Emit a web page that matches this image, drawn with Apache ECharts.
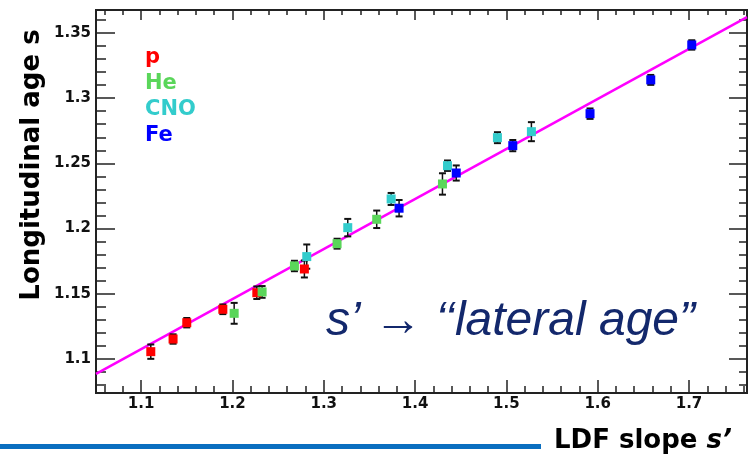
<!DOCTYPE html>
<html>
<head>
<meta charset="utf-8">
<script src="https://cdn.jsdelivr.net/npm/echarts@6/dist/echarts.min.js"></script>
<style>
html,body{margin:0;padding:0;background:#fff;}
#chart{width:751px;height:456px;}
</style>
</head>
<body>
<div id="chart"></div>
<script>
// ---- data ----
const groups = ['p', 'He', 'CNO', 'Fe'];
const groupColors = ['#ff0000', '#5ad65a', '#33cccc', '#0000ff'];

const pX   = [1.1106, 1.1350, 1.1500, 1.1895, 1.2267, 1.2788];
const pY   = [1.1056, 1.1153, 1.1278, 1.1381, 1.1508, 1.1690];
const pErr = [0.0055, 0.0036, 0.0036, 0.0037, 0.0048, 0.0065];

const heX   = [1.2019, 1.2325, 1.2679, 1.3146, 1.3580, 1.4300];
const heY   = [1.1350, 1.1514, 1.1713, 1.1884, 1.2071, 1.2342];
const heErr = [0.0080, 0.0045, 0.0040, 0.0038, 0.0067, 0.0082];

const cnoX   = [1.2814, 1.3263, 1.3738, 1.4355, 1.4902, 1.5274];
const cnoY   = [1.1785, 1.2007, 1.2227, 1.2482, 1.2697, 1.2743];
const cnoErr = [0.0093, 0.0067, 0.0046, 0.0040, 0.0042, 0.0073];

const feX   = [1.3825, 1.4451, 1.5070, 1.5916, 1.6581, 1.7030];
const feY   = [1.2156, 1.2426, 1.2636, 1.2881, 1.3140, 1.3408];
const feErr = [0.0063, 0.0058, 0.0043, 0.0040, 0.0038, 0.0036];

// straight-line fit (end points)
const fitX = [1.0506, 1.7635];
const fitY = [1.0885, 1.3621];

// axes
const xRange = [1.0506, 1.7635];
const yRange = [1.0739, 1.3676];
const xMajorTicks = [1.1, 1.2, 1.3, 1.4, 1.5, 1.6, 1.7];
const xTickLabels = ['1.1', '1.2', '1.3', '1.4', '1.5', '1.6', '1.7'];
const yMajorTicks = [1.1, 1.15, 1.2, 1.25, 1.3, 1.35];
const yTickLabels = ['1.1', '1.15', '1.2', '1.25', '1.3', '1.35'];

const xTitle = 'LDF slope ';
const xTitleVar = 's’';
const yTitle = 'Longitudinal age s';
const noteText = 's’ → ‘‘lateral age”';

// ---- build ----
const xs = [pX, heX, cnoX, feX], ys = [pY, heY, cnoY, feY], es = [pErr, heErr, cnoErr, feErr];

const xMinor = [], yMinor = [];
for (let i = 106; i <= 176; i += 2) xMinor.push(i / 100);
for (let i = 108; i <= 136; i += 1) yMinor.push(i / 100);

const FONT = 'DejaVu Sans';
const AX = '#222';

function lab(ticks, labels) {
  return v => {
    const k = ticks.findIndex(t => Math.abs(t - v) < 1e-6);
    return k >= 0 ? labels[k] : '';
  };
}

function xAxisDef(pos, ticks, len, showLabel) {
  return {
    type: 'value', gridIndex: 0, position: pos, min: xRange[0], max: xRange[1],
    axisLine: { show: true, onZero: false, lineStyle: { color: AX, width: 2 } },
    axisTick: { show: true, inside: true, length: len, customValues: ticks, lineStyle: { color: AX, width: 1.5 } },
    axisLabel: showLabel ? {
      show: true, customValues: xMajorTicks, formatter: lab(xMajorTicks, xTickLabels),
      margin: 4, color: '#111', fontFamily: FONT, fontWeight: 'bold', fontSize: 15
    } : { show: false },
    splitLine: { show: false }, minorTick: { show: false }
  };
}
function yAxisDef(pos, ticks, len, showLabel) {
  return {
    type: 'value', gridIndex: 0, position: pos, min: yRange[0], max: yRange[1],
    axisLine: { show: true, onZero: false, lineStyle: { color: AX, width: 2 } },
    axisTick: { show: true, inside: true, length: len, customValues: ticks, lineStyle: { color: AX, width: 1.5 } },
    axisLabel: showLabel ? {
      show: true, customValues: yMajorTicks, formatter: lab(yMajorTicks, yTickLabels),
      margin: 5, color: '#111', fontFamily: FONT, fontWeight: 'bold', fontSize: 15
    } : { show: false },
    splitLine: { show: false }, minorTick: { show: false }
  };
}

const series = [];
series.push({
  type: 'line', name: 'fit', data: fitX.map((x, i) => [x, fitY[i]]),
  symbol: 'none', lineStyle: { color: '#ff00ff', width: 2.5 }, z: 1, silent: true
});
groups.forEach((g, gi) => {
  series.push({
    type: 'custom', name: g + ' err', z: 2, silent: true,
    data: xs[gi].map((x, i) => [x, ys[gi][i], es[gi][i]]),
    renderItem: function (params, api) {
      const x = api.value(0), y = api.value(1), e = api.value(2);
      const lo = api.coord([x, y - e]), hi = api.coord([x, y + e]);
      const c = 3.5;
      const st = { stroke: '#111', lineWidth: 1.5 };
      const cs = { stroke: '#111', lineWidth: 2 };
      return {
        type: 'group', children: [
          { type: 'line', shape: { x1: lo[0], y1: lo[1], x2: hi[0], y2: hi[1] }, style: st },
          { type: 'line', shape: { x1: lo[0] - c, y1: lo[1], x2: lo[0] + c, y2: lo[1] }, style: cs },
          { type: 'line', shape: { x1: hi[0] - c, y1: hi[1], x2: hi[0] + c, y2: hi[1] }, style: cs }
        ]
      };
    }
  });
});
groups.forEach((g, gi) => {
  series.push({
    type: 'scatter', name: g, z: 3,
    data: xs[gi].map((x, i) => [x, ys[gi][i]]),
    symbol: 'rect', symbolSize: 9,
    itemStyle: { color: groupColors[gi], opacity: 1 }
  });
});

const chart = echarts.init(document.getElementById('chart'), null, { renderer: 'canvas' });
chart.setOption({
  animation: false,
  backgroundColor: '#fff',
  grid: { left: 96, top: 10, width: 651, height: 383 },
  xAxis: [
    xAxisDef('bottom', xMajorTicks, 13, true),
    xAxisDef('bottom', xMinor, 7, false),
    xAxisDef('top', xMajorTicks, 10, false),
    xAxisDef('top', xMinor, 5, false)
  ],
  yAxis: [
    yAxisDef('left', yMajorTicks, 19, true),
    yAxisDef('left', yMinor, 10, false),
    yAxisDef('right', yMajorTicks, 18, false),
    yAxisDef('right', yMinor, 8, false)
  ],
  legend: {
    orient: 'vertical', left: 135, top: 42, itemWidth: 0, itemHeight: 0, itemGap: 5,
    icon: 'none', selectedMode: false,
    data: groups.map((g, gi) => ({ name: g, icon: 'none', textStyle: { color: groupColors[gi] } })),
    textStyle: { fontFamily: FONT, fontWeight: 'bold', fontSize: 21 }
  },
  graphic: [
    { type: 'rect', left: 0, top: 444, shape: { width: 541, height: 5 }, style: { fill: '#0a6fc0' }, silent: true },
    {
      type: 'text', left: 554, top: 428, silent: true,
      style: {
        text: '{a|' + xTitle + '}{b|' + xTitleVar + '}',
        rich: {
          a: { fontFamily: FONT, fontWeight: 'bold', fontSize: 26, fill: '#000' },
          b: { fontFamily: FONT, fontWeight: 'bold', fontStyle: 'italic', fontSize: 26, fill: '#000' }
        }
      }
    },
    {
      type: 'text', x: 32, y: 165, rotation: Math.PI / 2, silent: true,
      style: { text: yTitle, fontFamily: FONT, fontWeight: 'bold', fontSize: 26, fill: '#000', align: 'center', verticalAlign: 'middle' }
    },
    {
      type: 'text', left: 326, top: 298, silent: true,
      style: { text: noteText, fontFamily: 'Liberation Sans', fontStyle: 'italic', fontSize: 48, fill: '#13286c' }
    }
  ],
  series: series
});
</script>
</body>
</html>
